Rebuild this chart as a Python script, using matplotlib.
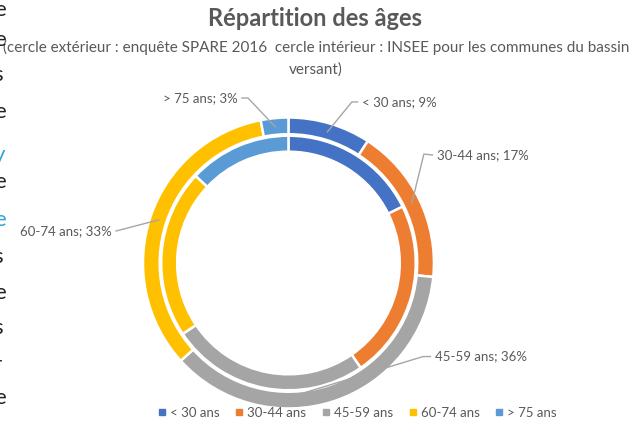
"""Double donut: age distribution, SPARE 2016 survey (outer) vs INSEE (inner)."""

import numpy as np
import matplotlib.pyplot as plt
from matplotlib.lines import Line2D

plt.rcParams['font.family'] = ['Lato', 'DejaVu Sans']

categories = ["< 30 ans", "30-44 ans", "45-59 ans", "60-74 ans", "> 75 ans"]
outer_pct = [9, 17, 36, 33, 3]            # enquête SPARE 2016
inner_pct = [17.7, 22.7, 25.2, 21.4, 13.0]  # INSEE
colors = ["#4472C4", "#ED7D31", "#A5A5A5", "#FFC000", "#5B9BD5"]

# page text cropped at the left edge of the screenshot
edge_letters = ['e', 'e', 's', 'e', 'y', 'e', 'e', 's', 'e', 's', 'r', 'e']
edge_colors = ['#222222'] * 4 + ['#2FA4D6', '#222222', '#2FA4D6'] + ['#222222'] * 5
edge_y = [10, 40, 75, 112, 155, 182, 220, 257, 293, 328, 365, 398]

# label layout (data units, outer radius = 1)
label_text = [(0.505, 1.107), (1.02, 0.742), (1.005, -0.643), (-1.215, 0.22), (-0.35, 1.134)]
label_elbow = [(0.436, 1.107), (0.931, 0.749), (0.925, -0.643), (-1.185, 0.22), (-0.278, 1.134)]
anchor_frac = [0.5, 0.5, 0.34, 0.5, 0.5]

TEXT = '#595959'


def main():
    fig = plt.figure(figsize=(6.36, 4.21), dpi=100)
    ax = fig.add_axes([0.2248, 0.0297, 0.4575, 0.6912])
    ax.set_aspect('equal')

    wp = dict(edgecolor='white', linewidth=1.8)
    outer, _ = ax.pie(outer_pct, radius=1.0, colors=colors, startangle=90, counterclock=False,
                      wedgeprops=dict(width=0.115, **wp))
    ax.pie(inner_pct, radius=0.875, colors=colors, startangle=90, counterclock=False,
           wedgeprops=dict(width=0.11, **wp))
    ax.set_xlim(-1, 1)
    ax.set_ylim(-1, 1)

    # data labels with leader lines
    for i, w in enumerate(outer):
        ang = np.deg2rad(w.theta1 + (w.theta2 - w.theta1) * anchor_frac[i])
        ax_, ay_ = 0.94 * np.cos(ang), 0.94 * np.sin(ang)
        ex, ey = label_elbow[i]
        tx, ty = label_text[i]
        left = tx < 0
        end = tx + (0.03 if left else -0.03)
        ax.plot([ax_, ex, end], [ay_, ey, ty], color='#A6A6A6', lw=1, clip_on=False)
        ax.text(tx, ty, "%s; %d%%" % (categories[i], outer_pct[i]), ha='right' if left else 'left',
                va='center', fontsize=9.5, color=TEXT, clip_on=False)

    fig.text(0.496, 0.955, "Répartition des âges", ha='center', va='center', fontsize=17,
             fontweight='bold', color=TEXT)
    fig.text(0.497, 0.888, "(cercle extérieur : enquête SPARE 2016  cercle intérieur : INSEE pour les communes du bassin",
             ha='center', va='center', fontsize=11, color=TEXT)
    fig.text(0.497, 0.834, "versant)", ha='center', va='center', fontsize=11, color=TEXT)

    for ch, c, y in zip(edge_letters, edge_colors, edge_y):
        fig.text(-0.01, 1 - y / 421, ch, ha='left', va='center', fontsize=16, color=c)

    handles = [Line2D([], [], marker='s', ls='', color=c, markersize=5) for c in colors]
    fig.legend(handles, categories, loc='center', bbox_to_anchor=(0.562, 0.02), ncol=5, frameon=False,
               fontsize=9.5, labelcolor=TEXT, handlelength=0.6, handletextpad=0.3, columnspacing=1.2)

    fig.savefig("out.png", dpi=100)


if __name__ == "__main__":
    main()
